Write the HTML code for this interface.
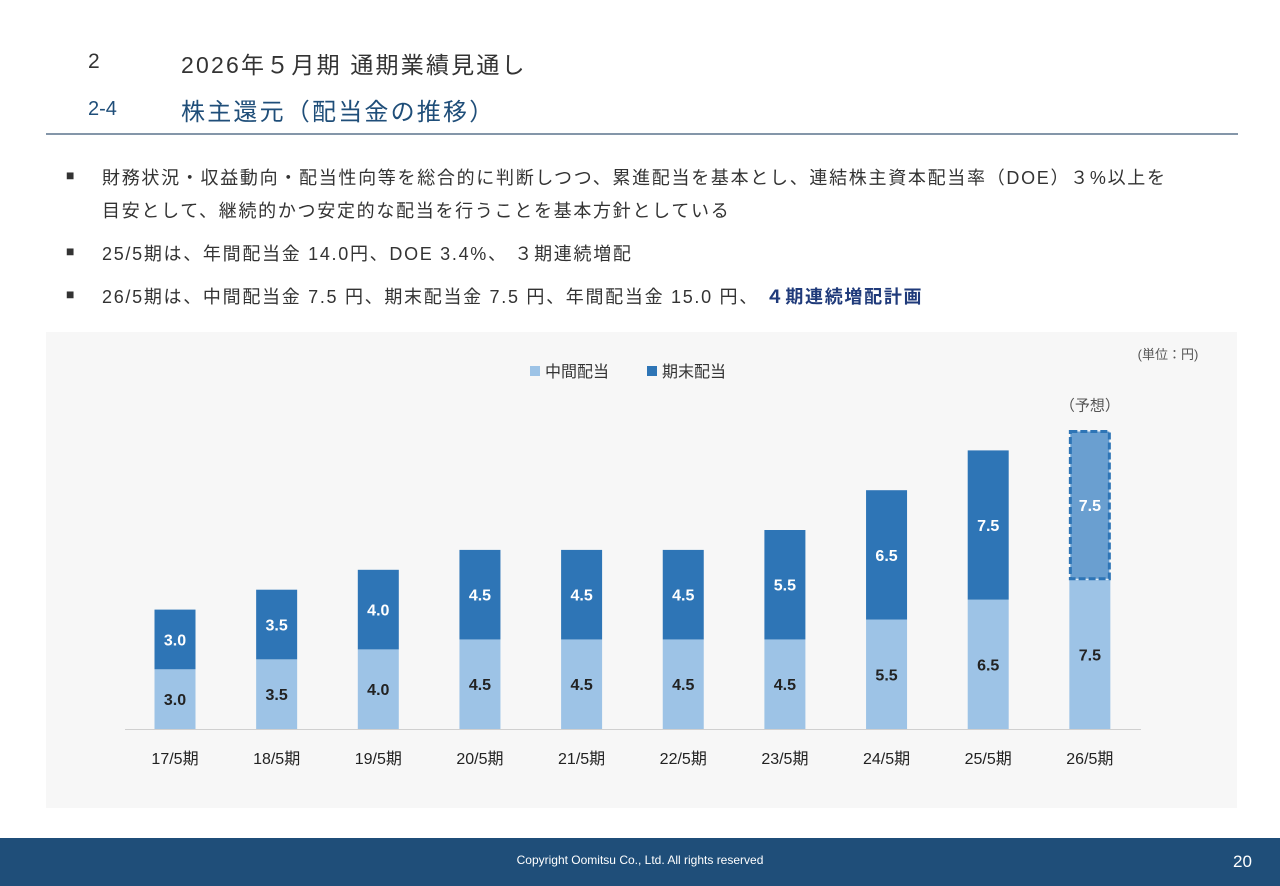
<!DOCTYPE html>
<html><head><meta charset="utf-8"><style>
body{margin:0;width:1280px;height:886px;background:#fff;position:relative;overflow:hidden;font-family:"Liberation Sans","Noto Sans CJK JP",sans-serif;color:#333}
.a{position:absolute;white-space:nowrap}
.bt{font-size:18px;letter-spacing:1.7px}
</style></head><body>
<div class="a" style="left:88px;top:50px;font-size:21px;color:#333">2</div>
<div class="a" style="left:181px;top:46px;font-size:23px;letter-spacing:2.2px;color:#333">2026年５月期 通期業績見通し</div>
<div class="a" style="left:88px;top:98px;font-size:20px;color:#1f4e79">2-4</div>
<div class="a" style="left:181px;top:92px;font-size:24px;letter-spacing:2.2px;color:#1f4e79">株主還元（配当金の推移）</div>
<div class="a" style="left:46px;top:133px;width:1192px;height:2px;background:#8496a9"></div>
<div>
<div class="a" style="left:66px;top:167px;font-size:14px">■</div>
<div class="a bt" style="left:102px;top:164px">財務状況・収益動向・配当性向等を総合的に判断しつつ、累進配当を基本とし、連結株主資本配当率（DOE）３%以上を</div>
<div class="a bt" style="left:102px;top:197px">目安として、継続的かつ安定的な配当を行うことを基本方針としている</div>
<div class="a" style="left:66px;top:243px;font-size:14px">■</div>
<div class="a bt" style="left:102px;top:240px">25/5期は、年間配当金 14.0円、DOE 3.4%、 ３期連続増配</div>
<div class="a" style="left:66px;top:286px;font-size:14px">■</div>
<div class="a bt" style="left:102px;top:283px">26/5期は、中間配当金 7.5 円、期末配当金 7.5 円、年間配当金 15.0 円、 <b style="color:#1f3a7a">４期連続増配計画</b></div>
</div>
<div class="a" style="left:46px;top:332px;width:1191px;height:476px;background:#f7f7f7"></div>
<svg class="a" style="left:0;top:0" width="1280" height="886">
<text x="1168" y="359" font-size="13" fill="#555" text-anchor="middle">(単位：円)</text>
<g>
<rect x="530" y="366" width="10" height="10" fill="#9dc3e6"/><text x="545" y="377" font-size="16" fill="#333">中間配当</text>
<rect x="647" y="366" width="10" height="10" fill="#2e75b6"/><text x="662" y="377" font-size="16" fill="#333">期末配当</text>
</g>
<line x1="125" y1="729.5" x2="1141" y2="729.5" stroke="#d0d0d0"/>
<g id="bars"></g>
</svg>
<div class="a" style="left:0;top:838px;width:1280px;height:48px;background:#1f4e79"></div>
<div class="a" style="left:0;width:1280px;text-align:center;top:853px;font-size:12px;color:#fff">Copyright Oomitsu Co., Ltd. All rights reserved</div>
<div class="a" style="left:1233px;top:852px;font-size:17px;color:#fff">20</div>
<script>
const categories=["17/5期","18/5期","19/5期","20/5期","21/5期","22/5期","23/5期","24/5期","25/5期","26/5期"];
const interim=[3.0,3.5,4.0,4.5,4.5,4.5,4.5,5.5,6.5,7.5];
const yearEnd=[3.0,3.5,4.0,4.5,4.5,4.5,5.5,6.5,7.5,7.5];
const forecast=[false,false,false,false,false,false,false,false,false,true];
const NS="http://www.w3.org/2000/svg";
const base=729,ppu=19.9,x0=175,step=101.65,bw=41;
const y=v=>base-v*ppu, x=i=>x0+i*step;
const g=document.getElementById('bars');
function mk(t,a){const e=document.createElementNS(NS,t);for(const k in a)e.setAttribute(k,a[k]);g.appendChild(e);return e;}
categories.forEach((c,i)=>{
 const cx=x(i),a=interim[i],b=yearEnd[i];
 const r1=mk('rect',{x:cx-bw/2,y:y(a),width:bw,height:a*ppu,fill:'#9dc3e6'});
 
 
 const f=forecast[i];
 const r2=mk('rect',f?{x:cx-bw/2+1,y:y(a+b)+1,width:bw-2,height:b*ppu-2,fill:'#6a9fd0',stroke:'#2e75b6','stroke-width':3,'stroke-dasharray':'7 3'}:{x:cx-bw/2,y:y(a+b),width:bw,height:b*ppu,fill:'#2e75b6'});
 
 
 const t1=mk('text',{x:cx,y:y(a/2)+6,'font-size':16,'font-weight':'bold','text-anchor':'middle',fill:'#222'});
 t1.textContent=a.toFixed(1);
 
 
 const t2=mk('text',{x:cx,y:y(a+b/2)+6,'font-size':16,'font-weight':'bold','text-anchor':'middle',fill:'#fff'});
 t2.textContent=b.toFixed(1);
 
 
 const t3=mk('text',{x:cx,y:764,'font-size':16,'text-anchor':'middle',fill:'#222'});
 t3.textContent=c;
 
 
 if(f){const t4=mk('text',{x:cx,y:y(a+b)-20,'font-size':15,'text-anchor':'middle',fill:'#555'});t4.textContent='（予想）';
 
 }
});
</script>
</body></html>
